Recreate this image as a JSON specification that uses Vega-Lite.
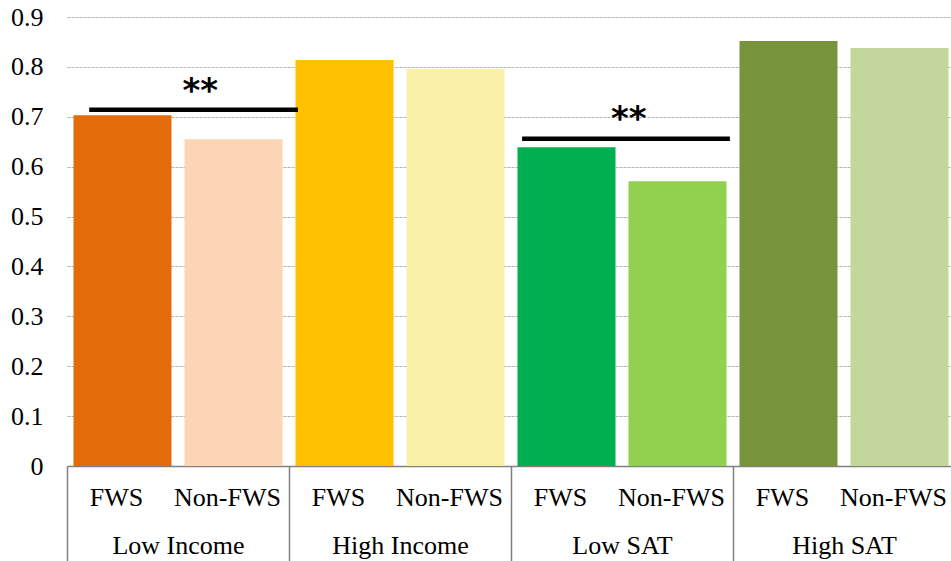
{
  "$schema": "https://vega.github.io/schema/vega-lite/v6.json",
  "width": 888,
  "height": 449,
  "autosize": {"type": "none"},
  "padding": {"left": 67, "top": 17, "right": 0, "bottom": 95},
  "background": "white",
  "config": {"view": {"stroke": null}, "font": "Liberation Serif"},
  "datasets": {
    "bars": [
      {"group": "Low Income", "sub": "FWS", "bar": "Low Income FWS", "value": 0.703},
      {"group": "Low Income", "sub": "Non-FWS", "bar": "Low Income Non-FWS", "value": 0.655},
      {"group": "High Income", "sub": "FWS", "bar": "High Income FWS", "value": 0.814},
      {"group": "High Income", "sub": "Non-FWS", "bar": "High Income Non-FWS", "value": 0.796},
      {"group": "Low SAT", "sub": "FWS", "bar": "Low SAT FWS", "value": 0.639},
      {"group": "Low SAT", "sub": "Non-FWS", "bar": "Low SAT Non-FWS", "value": 0.571},
      {"group": "High SAT", "sub": "FWS", "bar": "High SAT FWS", "value": 0.852},
      {"group": "High SAT", "sub": "Non-FWS", "bar": "High SAT Non-FWS", "value": 0.838}
    ],
    "sig": [
      {"group": "Low Income", "line": 0.714, "star": 0.75, "label": "**"},
      {"group": "Low SAT", "line": 0.656, "star": 0.693, "label": "**"}
    ]
  },
  "layer": [
    {
      "data": {"name": "bars"},
      "mark": {"type": "bar"},
      "encoding": {
        "x": {
          "field": "group", "type": "nominal",
          "sort": ["Low Income", "High Income", "Low SAT", "High SAT"],
          "scale": {"domain": ["Low Income", "High Income", "Low SAT", "High SAT"], "paddingInner": 0, "paddingOuter": 0},
          "axis": {
            "title": null, "labelAngle": 0, "tickBand": "extent", "tickSize": 95,
            "tickColor": "#808080", "tickWidth": 1.5, "domainColor": "#808080", "domainWidth": 1.5,
            "labelFont": "Liberation Serif", "labelFontSize": 26, "labelColor": "black",
            "labelPadding": -8, "labelBaseline": "alphabetic"
          }
        },
        "xOffset": {
          "field": "sub", "type": "nominal",
          "scale": {"domain": ["FWS", "Non-FWS"], "paddingInner": 0.117, "paddingOuter": 0.0585}
        },
        "y": {
          "field": "value", "type": "quantitative",
          "scale": {"domain": [0, 0.9], "nice": false},
          "axis": {
            "title": null, "values": [0, 0.1, 0.2, 0.3, 0.4, 0.5, 0.6, 0.7, 0.8, 0.9],
            "labelExpr": "datum.value == 0 ? '0' : format(datum.value, '.1f')",
            "domain": false, "ticks": false, "labelPadding": 24,
            "labelFont": "Liberation Serif", "labelFontSize": 26, "labelColor": "black",
            "gridDash": [3, 1], "gridColor": "#b4b4b4", "gridWidth": 1
          }
        },
        "color": {
          "field": "bar", "type": "nominal", "legend": null,
          "scale": {
            "domain": ["Low Income FWS", "Low Income Non-FWS", "High Income FWS", "High Income Non-FWS", "Low SAT FWS", "Low SAT Non-FWS", "High SAT FWS", "High SAT Non-FWS"],
            "range": ["#E46C0A", "#FBD5B5", "#FFC000", "#F9EFA8", "#00B050", "#92D050", "#77933C", "#C3D69B"]
          }
        }
      }
    },
    {
      "data": {"name": "bars"},
      "mark": {"type": "text", "baseline": "alphabetic", "dy": 40, "dx": -6, "fontSize": 26, "font": "Liberation Serif", "color": "black"},
      "encoding": {
        "x": {"field": "group", "type": "nominal"},
        "xOffset": {"field": "sub", "type": "nominal"},
        "y": {"datum": 0},
        "text": {"field": "sub"}
      }
    },
    {
      "data": {"name": "sig"},
      "transform": [{"filter": "datum.group == 'Low Income'"}],
      "mark": {"type": "rule", "strokeWidth": 4.5, "color": "black"},
      "encoding": {
        "x": {"field": "group", "type": "nominal", "bandPosition": 0.1},
        "x2": {"field": "group", "bandPosition": 1.04},
        "y": {"field": "line", "type": "quantitative"}
      }
    },
    {
      "data": {"name": "sig"},
      "transform": [{"filter": "datum.group == 'Low SAT'"}],
      "mark": {"type": "rule", "strokeWidth": 4.5, "color": "black"},
      "encoding": {
        "x": {"field": "group", "type": "nominal", "bandPosition": 0.05},
        "x2": {"field": "group", "bandPosition": 0.986},
        "y": {"field": "line", "type": "quantitative"}
      }
    },
    {
      "data": {"name": "sig"},
      "transform": [{"filter": "datum.group == 'Low Income'"}],
      "mark": {"type": "text", "baseline": "middle", "fontSize": 34, "font": "DejaVu Sans", "fontWeight": "bold", "color": "black"},
      "encoding": {
        "x": {"field": "group", "type": "nominal", "bandPosition": 0.6},
        "y": {"field": "star", "type": "quantitative"},
        "text": {"field": "label"}
      }
    },
    {
      "data": {"name": "sig"},
      "transform": [{"filter": "datum.group == 'Low SAT'"}],
      "mark": {"type": "text", "baseline": "middle", "fontSize": 34, "font": "DejaVu Sans", "fontWeight": "bold", "color": "black"},
      "encoding": {
        "x": {"field": "group", "type": "nominal", "bandPosition": 0.53},
        "y": {"field": "star", "type": "quantitative"},
        "text": {"field": "label"}
      }
    }
  ]
}
